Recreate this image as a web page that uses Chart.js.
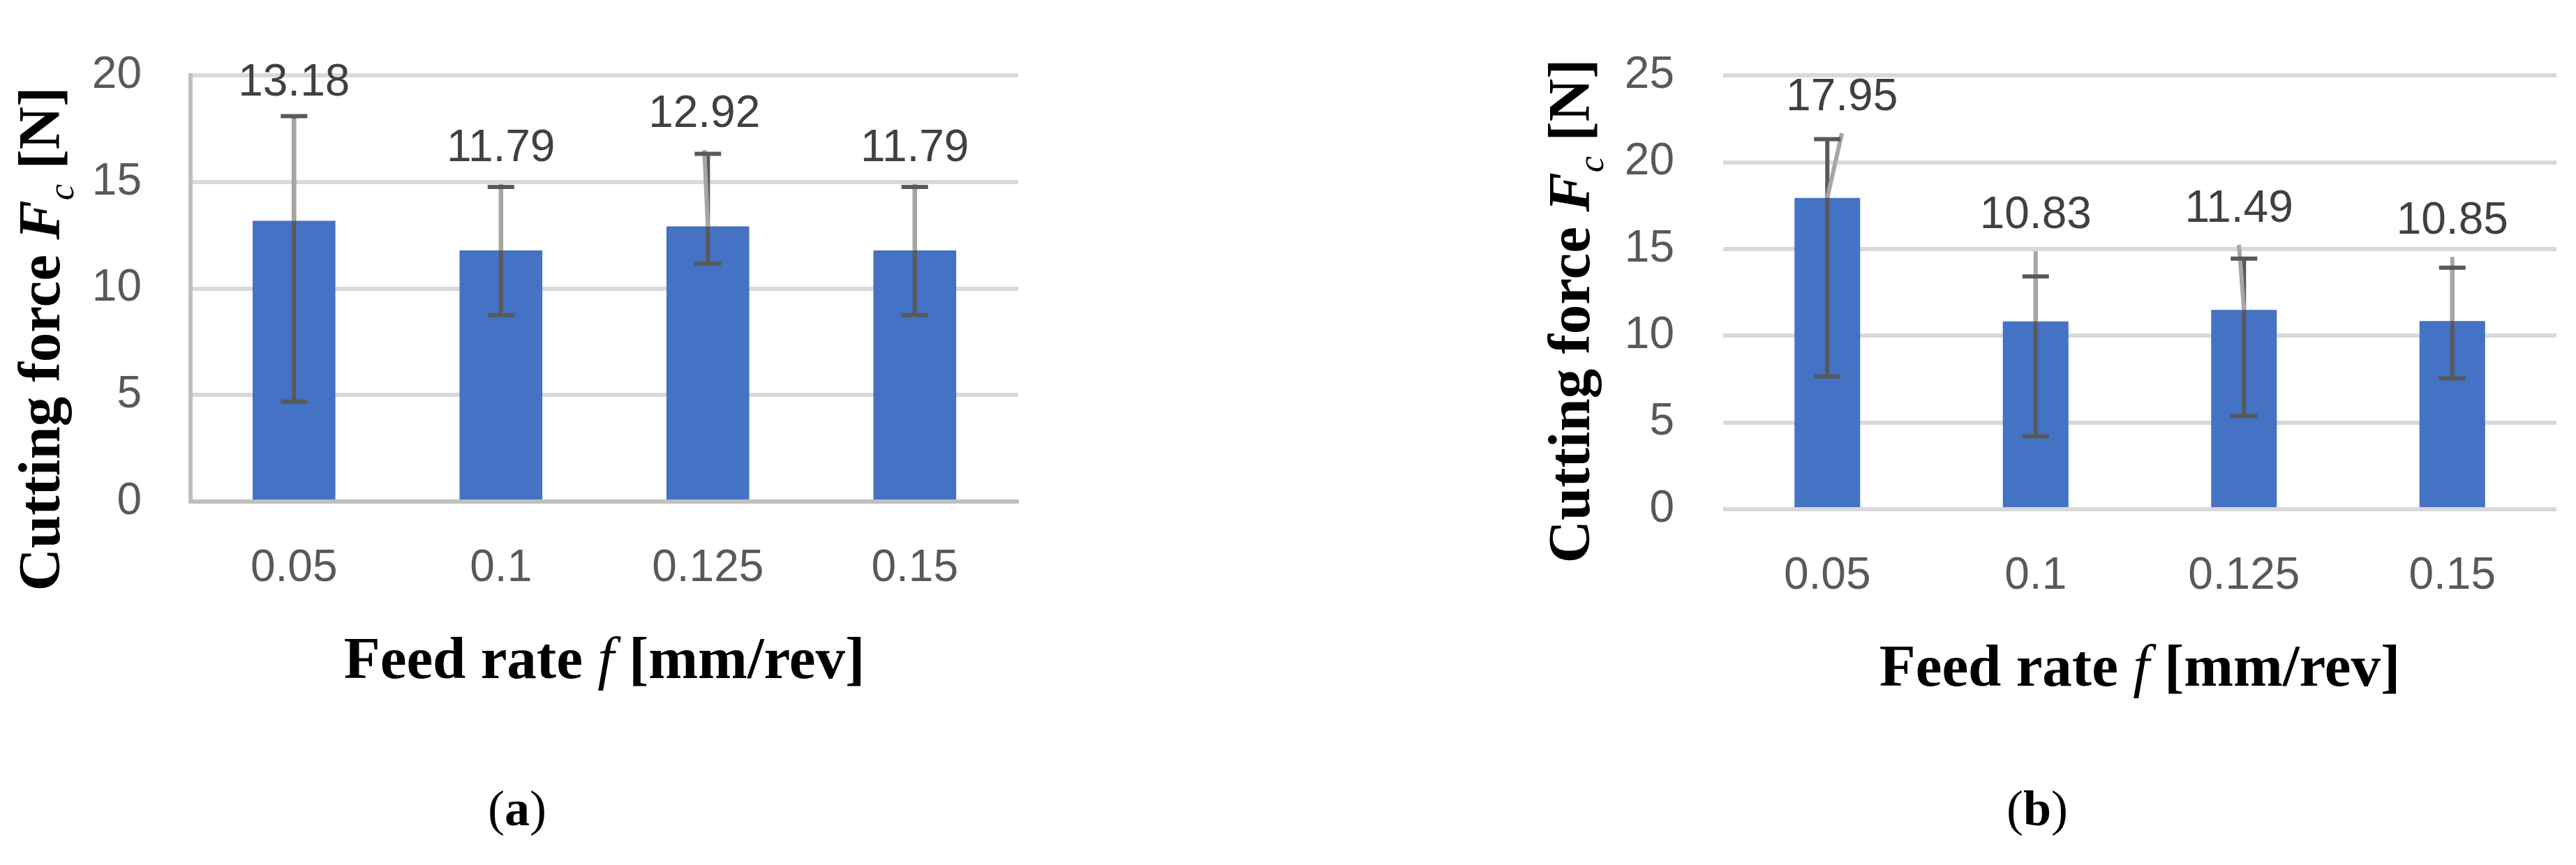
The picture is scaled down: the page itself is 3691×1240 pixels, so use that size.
<!DOCTYPE html>
<html>
<head>
<meta charset="utf-8">
<script src="https://cdn.jsdelivr.net/npm/chart.js@4.4.1/dist/chart.umd.min.js"></script>
<style>
  html, body { margin: 0; padding: 0; background: #fff; }
  #page { position: relative; width: 3691px; height: 1240px; overflow: hidden; }
  canvas { position: absolute; top: 0; }
  .cap { position: absolute; top: 1118px; width: 200px; text-align: center;
         font: 72px "Liberation Serif", serif; color: #000; }
  .cap b { font-weight: bold; }
</style>
</head>
<body>
<div id="page">
  <canvas id="chartA" width="1845" height="1240" style="left:0"></canvas>
  <canvas id="chartB" width="1846" height="1240" style="left:1845px"></canvas>
  <div class="cap" style="left:641px">(<b>a</b>)</div>
  <div class="cap" style="left:2819px">(<b>b</b>)</div>
</div>
<script>
const feedRates = ['0.05', '0.1', '0.125', '0.15']

// (a)
const forceA = [13.18, 11.79, 12.92, 11.79]
const errHighA = [18.1, 14.77, 16.33, 14.77]
const errLowA = [4.69, 8.75, 11.17, 8.75]
const labelAtA = [19.81, 16.75, 18.34, 16.75]
const labelShiftA = [0, 0, -0.017, 0]

// (b)
const forceB = [17.95, 10.83, 11.49, 10.85]
const errHighB = [21.34, 13.42, 14.45, 13.93]
const errLowB = [7.65, 4.2, 5.37, 7.54]
const labelAtB = [23.93, 17.13, 17.5, 16.8]
const labelShiftB = [0.07, 0, -0.024, 0]

const yTitle = [
  { text: 'Cutting force ', bold: true },
  { text: 'F', bold: true, italic: true },
  { text: 'c', italic: true, sub: true },
  { text: ' [N]', bold: true },
]
const xTitle = [
  { text: 'Feed rate ', bold: true },
  { text: 'f', italic: true },
  { text: ' [mm/rev]', bold: true },
]

function line(ctx, x1, y1, x2, y2) {
  ctx.beginPath()
  ctx.moveTo(x1, y1)
  ctx.lineTo(x2, y2)
  ctx.stroke()
}

// error bars, leader lines and value labels, all placed through the chart scales
const errorBars = {
  id: 'errorBars',
  afterDatasetsDraw(chart, args, opts) {
    const ctx = chart.ctx
    const xs = chart.scales.x
    const ys = chart.scales.y
    const values = chart.data.datasets[0].data
    ctx.save()
    ctx.lineCap = 'butt'
    ctx.lineWidth = 6
    chart.getDatasetMeta(0).data.forEach((bar, i) => {
      const yHi = ys.getPixelForValue(opts.high[i])
      const yLo = ys.getPixelForValue(opts.low[i])
      const lx = xs.getPixelForValue(i + opts.shift[i])
      const ly = ys.getPixelForValue(opts.labelAt[i])

      ctx.strokeStyle = '#595959'
      line(ctx, bar.x, yHi, bar.x, yLo)

      ctx.strokeStyle = '#a6a6a6'
      line(ctx, lx, ly + 56, bar.x, bar.y)

      ctx.strokeStyle = '#595959'
      line(ctx, bar.x - 19, yHi, bar.x + 19, yHi)
      line(ctx, bar.x - 19, yLo, bar.x + 19, yLo)

      ctx.fillStyle = '#404040'
      ctx.font = '64px "Liberation Sans"'
      ctx.textAlign = 'center'
      ctx.textBaseline = 'alphabetic'
      ctx.fillText(values[i].toFixed(2), lx, ly + 23)
    })
    ctx.restore()
  },
}

function drawRich(ctx, parts, size) {
  let total = 0
  const items = parts.map((p) => {
    const s = p.sub ? size * 0.62 : size
    const font = (p.italic ? 'italic ' : '') + (p.bold ? 'bold ' : '') + s + 'px "Liberation Serif"'
    ctx.font = font
    const w = ctx.measureText(p.text).width
    total += w
    return { text: p.text, font, w, dy: p.sub ? size * 0.24 : 0 }
  })
  let cx = -total / 2
  items.forEach((it) => {
    ctx.font = it.font
    ctx.fillText(it.text, cx, it.dy)
    cx += it.w
  })
}

const axisTitles = {
  id: 'axisTitles',
  afterDraw(chart, args, opts) {
    const ctx = chart.ctx
    const area = chart.chartArea
    ctx.save()
    ctx.fillStyle = '#000'
    ctx.textAlign = 'left'
    ctx.textBaseline = 'alphabetic'
    ctx.translate((area.left + area.right) / 2, area.bottom + 253)
    drawRich(ctx, xTitle, 85)
    ctx.restore()

    ctx.save()
    ctx.fillStyle = '#000'
    ctx.textAlign = 'left'
    ctx.textBaseline = 'alphabetic'
    ctx.translate(opts.yTitleX, opts.yTitleY)
    ctx.rotate(-Math.PI / 2)
    drawRich(ctx, yTitle, 85)
    ctx.restore()
  },
}

function createChart(canvas, cfg) {
  return new Chart(canvas, {
    type: 'bar',
    data: {
      labels: feedRates,
      datasets: [
        {
          data: cfg.values,
          backgroundColor: '#4472c4',
          borderWidth: 0,
          categoryPercentage: 1,
          barPercentage: cfg.barWidth,
        },
      ],
    },
    options: {
      responsive: false,
      animation: false,
      events: [],
      layout: {
        padding: { left: 0, top: cfg.top, right: cfg.right, bottom: 0 },
      },
      plugins: {
        legend: { display: false },
        tooltip: { enabled: false },
        errorBars: { high: cfg.high, low: cfg.low, labelAt: cfg.labelAt, shift: cfg.shift },
        axisTitles: { yTitleX: cfg.yTitleX, yTitleY: cfg.yTitleY },
      },
      scales: {
        x: {
          afterFit: (scale) => { scale.height = cfg.xHeight },
          grid: { display: false, drawTicks: false },
          border: { display: cfg.axisLines, color: '#bfbfbf', width: 6 },
          ticks: {
            color: '#595959',
            font: { family: 'Liberation Sans', size: 64 },
            padding: 58,
            maxRotation: 0,
          },
        },
        y: {
          min: 0,
          max: cfg.max,
          afterFit: (scale) => { scale.width = cfg.yWidth },
          grid: { color: '#d9d9d9', lineWidth: 6, drawTicks: false },
          border: { display: cfg.axisLines, color: '#bfbfbf', width: 6 },
          ticks: {
            stepSize: 5,
            color: '#595959',
            font: { family: 'Liberation Sans', size: 64 },
            padding: 70,
          },
        },
      },
    },
    plugins: [errorBars, axisTitles],
  })
}

createChart(document.getElementById('chartA'), {
  values: forceA, high: errHighA, low: errLowA, labelAt: labelAtA, shift: labelShiftA,
  max: 20, barWidth: 0.4, axisLines: true,
  top: 92, right: 386, yWidth: 273, xHeight: 521,
  yTitleX: 85, yTitleY: 486,
})

createChart(document.getElementById('chartB'), {
  values: forceB, high: errHighB, low: errLowB, labelAt: labelAtB, shift: labelShiftB,
  max: 25, barWidth: 0.315, axisLines: false,
  top: 50, right: 28, yWidth: 624, xHeight: 510,
  yTitleX: 2277 - 1845, yTitleY: 446,
})
</script>
</body>
</html>
